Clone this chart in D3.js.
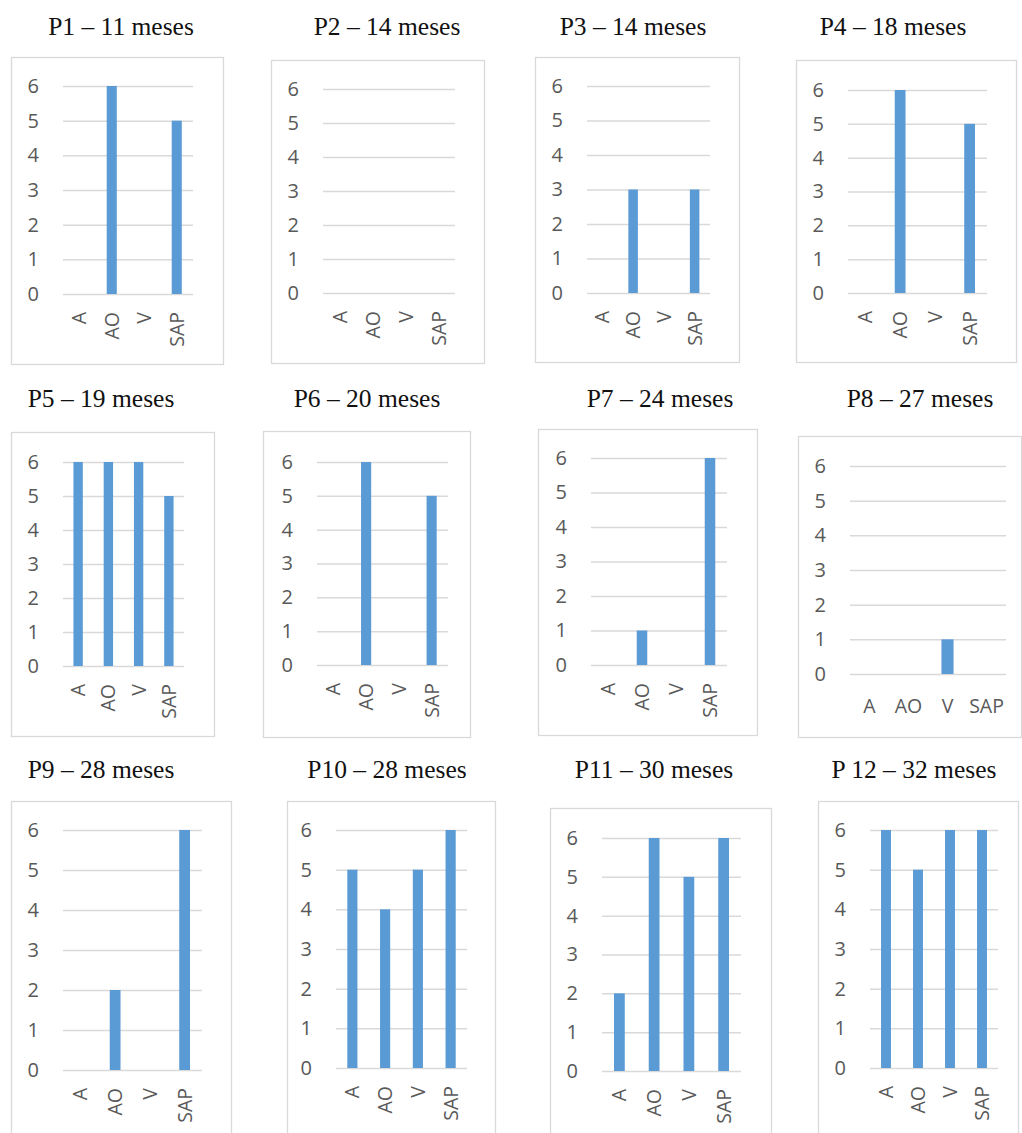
<!DOCTYPE html>
<html>
<head>
<meta charset="utf-8">
<script src="https://cdn.jsdelivr.net/npm/d3@7"></script>
<style>
  html, body { margin: 0; padding: 0; background: #ffffff; }
  svg { display: block; }
</style>
</head>
<body>
<svg id="chart" width="1022" height="1133"></svg>
<script>
// Categories shared by every small chart
const categories = ["A", "AO", "V", "SAP"];

// Panel titles
const titles = [
  "P1 – 11 meses", "P2 – 14 meses", "P3 – 14 meses", "P4 – 18 meses",
  "P5 – 19 meses", "P6 – 20 meses", "P7 – 24 meses", "P8 – 27 meses",
  "P9 – 28 meses", "P10 – 28 meses", "P11 – 30 meses", "P 12 – 32 meses"
];

// Counts per category (A, AO, V, SAP) for each panel
const p1 = [0, 6, 0, 5];
const p2 = [0, 0, 0, 0];
const p3 = [0, 3, 0, 3];
const p4 = [0, 6, 0, 5];
const p5 = [6, 6, 6, 5];
const p6 = [0, 6, 0, 5];
const p7 = [0, 1, 0, 6];
const p8 = [0, 0, 1, 0];
const p9 = [0, 2, 0, 6];
const p10 = [5, 4, 5, 6];
const p11 = [2, 6, 5, 6];
const p12 = [6, 5, 6, 6];
const series = [p1, p2, p3, p4, p5, p6, p7, p8, p9, p10, p11, p12];

// Y-axis tick values
const yTicks = [0, 1, 2, 3, 4, 5, 6];

// Placement of each panel on the page
const layout = [
  { box: [11, 57, 223, 364],   gx: [63, 193],  y6: 86,  y0: 294,  tx: 121, ty: 35 },
  { box: [271, 60, 484, 363],  gx: [323, 455], y6: 89,  y0: 293,  tx: 387, ty: 35 },
  { box: [535, 57, 739, 362],  gx: [587, 710], y6: 86,  y0: 293,  tx: 633, ty: 35 },
  { box: [796, 60, 1016, 362], gx: [848, 987], y6: 90,  y0: 293,  tx: 893, ty: 35 },
  { box: [11, 432, 214, 736],  gx: [63, 184],  y6: 462, y0: 666,  tx: 101, ty: 407 },
  { box: [263, 431, 470, 737], gx: [317, 448], y6: 462, y0: 665,  tx: 367, ty: 407 },
  { box: [538, 429, 757, 735], gx: [591, 727], y6: 458, y0: 665,  tx: 660, ty: 407 },
  { box: [798, 436, 1021, 737],gx: [850, 1006],y6: 466, y0: 674,  tx: 920, ty: 407, flat: true },
  { box: [11, 801, 231, 1145], gx: [63, 202],  y6: 830, y0: 1070, tx: 101, ty: 778 },
  { box: [287, 801, 495, 1145],gx: [336, 467], y6: 830, y0: 1068, tx: 387, ty: 778 },
  { box: [550, 808, 771, 1145],gx: [602, 741], y6: 838, y0: 1071, tx: 654, ty: 778 },
  { box: [818, 801, 1018, 1145],gx: [870, 998],y6: 830, y0: 1068, tx: 914, ty: 778 }
];

const svg = d3.select("#chart");
svg.append("rect").attr("width", 1022).attr("height", 1133).attr("fill", "#ffffff");

const BAR = "#5b9bd5";
const GRID = "#d9d9d9";
const TEXT = "#595959";
const SANS = "'Open Sans', 'Segoe UI', 'DejaVu Sans', sans-serif";
const SERIF = "'Liberation Serif', 'Times New Roman', serif";

series.forEach((values, i) => {
  const L = layout[i];
  const g = svg.append("g");

  // Chart frame
  g.append("rect")
    .attr("x", L.box[0] + 0.5).attr("y", L.box[1] + 0.5)
    .attr("width", L.box[2] - L.box[0]).attr("height", L.box[3] - L.box[1])
    .attr("fill", "#ffffff").attr("stroke", GRID).attr("stroke-width", 1.3);

  // Title above the frame
  svg.append("text")
    .attr("x", L.tx).attr("y", L.ty)
    .attr("text-anchor", "middle")
    .style("font-family", SERIF).style("font-size", "25.5px")
    .style("font-weight", "normal").attr("fill", "#111")
    .text(titles[i]);

  const x = d3.scaleBand().domain(categories).range(L.gx)
    .paddingInner(0.69).paddingOuter(0.345);
  const y = d3.scaleLinear().domain([0, 6]).range([L.y0, L.y6]);

  // Y axis with gridlines across the plot
  const yAxis = g.append("g")
    .attr("transform", `translate(${L.gx[0]},0)`)
    .call(d3.axisLeft(y).tickValues(yTicks).tickFormat(d3.format("d"))
      .tickSize(-(L.gx[1] - L.gx[0])).tickPadding(24));
  yAxis.select(".domain").remove();
  yAxis.selectAll(".tick line").attr("stroke", GRID).attr("stroke-width", 1.5);
  yAxis.selectAll(".tick text")
    .attr("fill", TEXT).style("font-family", SANS).style("font-size", "20px");

  // Bars
  g.selectAll("rect.bar")
    .data(categories.map((c, k) => ({ c, v: values[k] })))
    .join("rect")
    .attr("class", "bar")
    .attr("x", d => x(d.c))
    .attr("width", x.bandwidth())
    .attr("y", d => y(d.v))
    .attr("height", d => y(0) - y(d.v))
    .attr("fill", BAR);

  // Category axis
  const xAxis = g.append("g")
    .attr("transform", `translate(0,${L.y0})`)
    .call(d3.axisBottom(x).tickSize(0));
  xAxis.select(".domain").remove();
  const labels = xAxis.selectAll(".tick text")
    .attr("fill", TEXT).style("font-family", SANS).style("font-size", "19.5px");
  if (L.flat) {
    labels.attr("y", 39).attr("dy", 0);
  } else {
    labels.attr("transform", "rotate(-90)")
      .attr("x", -18).attr("y", 0).attr("dy", "0.36em")
      .style("text-anchor", "end");
  }
});
</script>
</body>
</html>
